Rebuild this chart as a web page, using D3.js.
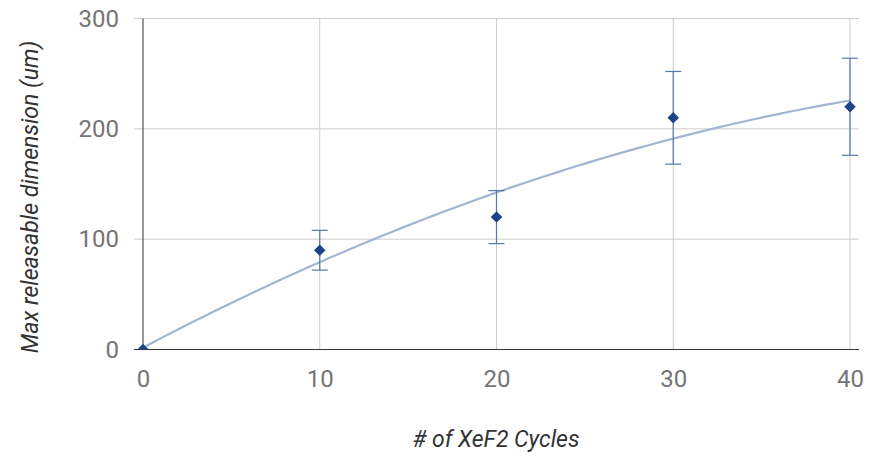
<!DOCTYPE html>
<html><head><meta charset="utf-8">
<script src="https://cdn.jsdelivr.net/npm/d3@7"></script>
<style>body{margin:0;background:#fff;} svg{display:block;font-family:Roboto,sans-serif;}</style>
</head><body><svg id="c" width="879" height="456"></svg>
<script>
const cycles = [0, 10, 20, 30, 40];
const dims = [0, 90, 120, 210, 220];
const errs = [0, 18, 24, 42, 44];
const xTicks = [0, 10, 20, 30, 40];
const yTicks = [0, 100, 200, 300];
const xTitle = "# of XeF2 Cycles";
const yTitle = "Max releasable dimension (um)";

const svg = d3.select("#c");
const x = d3.scaleLinear().domain([0, 40]).range([143, 850]);
const y = d3.scaleLinear().domain([0, 300]).range([349.5, 18.5]);

// grid
svg.append("g").selectAll("line").data(yTicks.filter(d => d > 0)).join("line")
  .attr("x1", 134).attr("x2", 859).attr("y1", d => y(d)).attr("y2", d => y(d))
  .attr("stroke", "#cccccc").attr("stroke-width", 1);
svg.append("g").selectAll("line").data(xTicks.filter(d => d > 0)).join("line")
  .attr("x1", d => x(d)).attr("x2", d => x(d)).attr("y1", 18.5).attr("y2", 349.5)
  .attr("stroke", "#cccccc").attr("stroke-width", 1);

// axes
const yAxis = d3.axisLeft(y).tickValues(yTicks).tickSize(0).tickPadding(24);
const gy = svg.append("g").attr("transform", `translate(${x(0)},0)`).call(yAxis);
gy.select(".domain").attr("stroke", "#333").attr("stroke-width", 1).attr("d", `M0,${y(300)}V${y(0)}`);
gy.selectAll("text").attr("font-size", 24).attr("fill", "#757575").attr("font-family", "Roboto");

const xAxis = d3.axisBottom(x).tickValues(xTicks).tickSize(0).tickPadding(20);
const gx = svg.append("g").attr("transform", `translate(0,${y(0)})`).call(xAxis);
gx.select(".domain").attr("stroke", "#333").attr("stroke-width", 1.2).attr("d", `M134,0H859`);
gx.selectAll("text").attr("font-size", 24).attr("fill", "#757575").attr("font-family", "Roboto");

// trendline: least-squares quadratic fit of data
function polyfit2(xs, ys) {
  let S = [0,0,0,0,0], T = [0,0,0];
  xs.forEach((xv, i) => {
    for (let k = 0; k < 5; k++) S[k] += Math.pow(xv, k);
    for (let k = 0; k < 3; k++) T[k] += ys[i] * Math.pow(xv, k);
  });
  const A = [[S[0],S[1],S[2],T[0]],[S[1],S[2],S[3],T[1]],[S[2],S[3],S[4],T[2]]];
  for (let i = 0; i < 3; i++) {
    for (let j = i + 1; j < 3; j++) {
      const f = A[j][i] / A[i][i];
      for (let k = i; k < 4; k++) A[j][k] -= f * A[i][k];
    }
  }
  const c = [0,0,0];
  for (let i = 2; i >= 0; i--) {
    let s = A[i][3];
    for (let k = i + 1; k < 3; k++) s -= A[i][k] * c[k];
    c[i] = s / A[i][i];
  }
  return c;
}
const coef = polyfit2(cycles, dims);
const trend = d3.range(0, 40.01, 0.5).map(v => [v, coef[0] + coef[1]*v + coef[2]*v*v]);

svg.append("defs").append("clipPath").attr("id", "clip")
  .append("rect").attr("x", 134).attr("y", 0).attr("width", 745).attr("height", y(0));

svg.append("path").datum(trend)
  .attr("clip-path", "url(#clip)")
  .attr("d", d3.line().x(d => x(d[0])).y(d => y(d[1])))
  .attr("fill", "none").attr("stroke", "#a2b5d3").attr("stroke-width", 2.2);

// error bars
const eb = svg.append("g").attr("stroke", "#5877b0").attr("stroke-width", 1.2);
cycles.forEach((c, i) => {
  if (errs[i] <= 0) return;
  const cx = x(c);
  eb.append("line").attr("x1", cx).attr("x2", cx).attr("y1", y(dims[i] + errs[i])).attr("y2", y(dims[i] - errs[i]));
  eb.append("line").attr("x1", cx - 8).attr("x2", cx + 8).attr("y1", y(dims[i] + errs[i])).attr("y2", y(dims[i] + errs[i]));
  eb.append("line").attr("x1", cx - 8).attr("x2", cx + 8).attr("y1", y(dims[i] - errs[i])).attr("y2", y(dims[i] - errs[i]));
});

// markers (diamonds)
const sym = d3.symbol().type(d3.symbolDiamond2).size(84);
svg.append("g").attr("clip-path", "url(#clip)").selectAll("path").data(cycles).join("path")
  .attr("transform", (d, i) => `translate(${x(d)},${y(dims[i])})`)
  .attr("d", sym).attr("fill", "#1c4587");

// titles
svg.append("text").attr("x", 496).attr("y", 447).attr("text-anchor", "middle")
  .attr("font-size", 23).attr("font-style", "italic").attr("fill", "#333").text(xTitle);
svg.append("text").attr("transform", `translate(38,197) rotate(-90)`)
  .attr("text-anchor", "middle").attr("font-size", 23).attr("font-style", "italic").attr("fill", "#333").text(yTitle);
</script></body></html>
